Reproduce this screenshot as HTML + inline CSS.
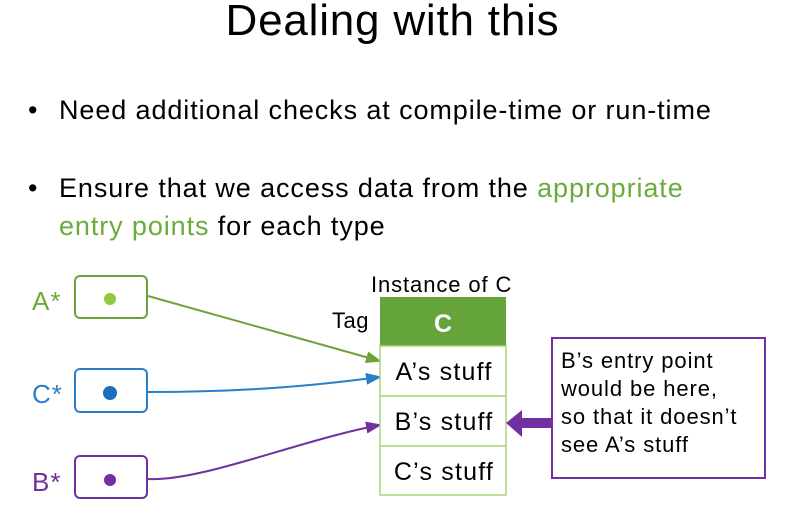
<!DOCTYPE html>
<html><head><style>
body{margin:0;width:785px;height:523px;background:#fff;position:relative;overflow:hidden;font-family:"Liberation Sans",sans-serif;color:#000}
.t{position:absolute;white-space:nowrap}
.b{font-size:27px;letter-spacing:0.9px}
</style></head><body>
<div class="t" style="left:0;width:785px;text-align:center;top:-4px;font-size:44px;letter-spacing:0.8px">Dealing with this</div>
<div class="t b" style="left:28px;top:95px">•</div>
<div class="t b" style="left:59px;top:95px">Need additional checks at compile-time or run-time</div>
<div class="t b" style="left:28px;top:173px">•</div>
<div class="t b" style="left:59px;top:173px">Ensure that we access data from the <span style="color:#6aac3c">appropriate</span></div>
<div class="t b" style="left:59px;top:211px"><span style="color:#6aac3c">entry points</span> for each type</div>
<svg width="785" height="523" style="position:absolute;left:0;top:0" font-family="Liberation Sans, sans-serif">
<defs>
<marker id="mg" markerWidth="8" markerHeight="6" refX="7" refY="3" orient="auto"><path d="M0,0L8,3L0,6z" fill="#70a23a"/></marker>
<marker id="mb" markerWidth="8" markerHeight="6" refX="7" refY="3" orient="auto"><path d="M0,0L8,3L0,6z" fill="#2a7fc9"/></marker>
<marker id="mp" markerWidth="8" markerHeight="6" refX="7" refY="3" orient="auto"><path d="M0,0L8,3L0,6z" fill="#7030a0"/></marker>
</defs>
<g font-size="26" letter-spacing="1"><text x="32" y="310" fill="#6aac3c">A*</text>
<text x="32" y="403" fill="#2a7fc9">C*</text>
<text x="32" y="491" fill="#7030a0">B*</text></g>
<rect x="75" y="276" width="72" height="42" rx="5" fill="#fff" stroke="#70a23a" stroke-width="2"/>
<circle cx="110" cy="299" r="6" fill="#92c83e"/>
<rect x="75" y="369" width="72" height="43" rx="5" fill="#fff" stroke="#2a7fc9" stroke-width="2"/>
<circle cx="110" cy="393" r="7" fill="#1a6fc0"/>
<rect x="75" y="456" width="72" height="42" rx="5" fill="#fff" stroke="#7030a0" stroke-width="2"/>
<circle cx="110" cy="480" r="6" fill="#7030a0"/>
<path d="M148,296 L380,361" stroke="#70a23a" stroke-width="2" fill="none" marker-end="url(#mg)"/>
<path d="M148,392 C250,392 320,385 380,377" stroke="#2a7fc9" stroke-width="2" fill="none" marker-end="url(#mb)"/>
<path d="M148,479 C200,482 300,440 380,425" stroke="#7030a0" stroke-width="2" fill="none" marker-end="url(#mp)"/>
<text x="371" y="292" font-size="22" letter-spacing="0.9">Instance of C</text>
<text x="332" y="328" font-size="22" letter-spacing="0.5">Tag</text>
<rect x="380" y="297" width="126" height="49" fill="#65a33b"/>
<text x="443" y="332" font-size="25" fill="#fff" font-weight="bold" text-anchor="middle">C</text>
<g fill="#fff" stroke="#a9d67a" stroke-width="1.5">
<rect x="380" y="346" width="126" height="50"/><rect x="380" y="396" width="126" height="50"/><rect x="380" y="446" width="126" height="49"/></g>
<g font-size="25" letter-spacing="1.2" text-anchor="middle"><text x="444" y="380">A’s stuff</text><text x="444" y="430">B’s stuff</text><text x="444" y="480">C’s stuff</text></g>
<path d="M552,418 L522,418 L522,410 L506,423 L522,437 L522,428 L552,428z" fill="#7030a0"/>
<rect x="552" y="338" width="213" height="140" fill="#fff" stroke="#7030a0" stroke-width="2"/>
<g font-size="22" letter-spacing="0.9"><text x="561" y="368">B’s entry point</text><text x="561" y="396">would be here,</text><text x="561" y="424">so that it doesn’t</text><text x="561" y="452">see A’s stuff</text></g>
</svg>
</body></html>
